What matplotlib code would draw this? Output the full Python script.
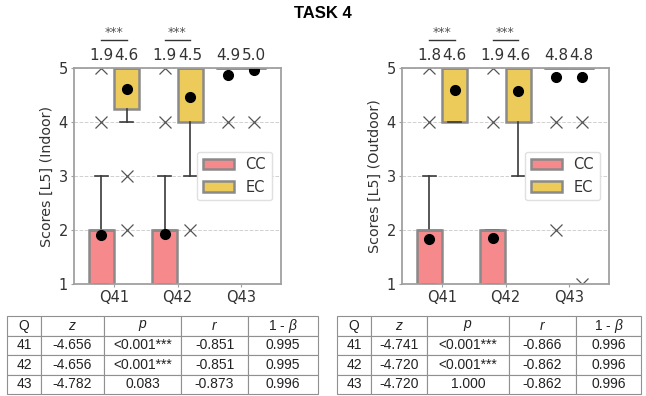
import matplotlib.pyplot as plt
import numpy as np

plt.rcParams["mathtext.fontset"] = "custom"
plt.rcParams["mathtext.rm"] = "Liberation Sans"
plt.rcParams["mathtext.it"] = "Liberation Sans:italic"

# Questions and groups
questions = ["Q41", "Q42", "Q43"]
groups = ["CC", "EC"]

# Box statistics per question (CC, EC): q1, q3, median, whisker low/high, mean, fliers
indoor_q1 = [[1, 4.25], [1, 4], [5, 5]]
indoor_q3 = [[2, 5], [2, 5], [5, 5]]
indoor_med = [[2, 5], [2, 5], [5, 5]]
indoor_whislo = [[1, 4], [1, 3], [5, 5]]
indoor_whishi = [[3, 5], [3, 5], [5, 5]]
indoor_mean = [[1.9, 4.62], [1.93, 4.47], [4.87, 4.97]]
indoor_fliers = [[[4, 5], [3, 2]], [[4, 5], [2]], [[4], [4]]]

outdoor_q1 = [[1, 4], [1, 4], [5, 5]]
outdoor_q3 = [[2, 5], [2, 5], [5, 5]]
outdoor_med = [[2, 5], [2, 5], [5, 5]]
outdoor_whislo = [[1, 4], [1, 3], [5, 5]]
outdoor_whishi = [[3, 5], [2, 5], [5, 5]]
outdoor_mean = [[1.83, 4.6], [1.86, 4.57], [4.83, 4.83]]
outdoor_fliers = [[[4, 5], []], [[4, 5], []], [[4, 2], [4, 1]]]

significant = [True, True, False]

# Wilcoxon test tables
table_cols = ["Q", "$z$", "$p$", "$r$", "1 - $\\beta$"]
indoor_table = [
    ["41", "-4.656", "<0.001***", "-0.851", "0.995"],
    ["42", "-4.656", "<0.001***", "-0.851", "0.995"],
    ["43", "-4.782", "0.083", "-0.873", "0.996"],
]
outdoor_table = [
    ["41", "-4.741", "<0.001***", "-0.866", "0.996"],
    ["42", "-4.720", "<0.001***", "-0.862", "0.996"],
    ["43", "-4.720", "1.000", "-0.862", "0.996"],
]

colors = {"CC": "#F5898C", "EC": "#EDCB5A"}
edge = "#8a8a8a"
W, H = 646, 396


def px_axes(fig, x0, y0, x1, y1):
    return fig.add_axes([x0 / W, 1 - y1 / H, (x1 - x0) / W, (y1 - y0) / H])


def draw_boxes(ax, q1, q3, med, wlo, whi, mean, fliers, ylabel):
    offsets = [-0.2, 0.2]
    for gi, g in enumerate(groups):
        stats = []
        for qi in range(len(questions)):
            stats.append(dict(q1=q1[qi][gi], q3=q3[qi][gi], med=med[qi][gi],
                              whislo=wlo[qi][gi], whishi=whi[qi][gi],
                              mean=mean[qi][gi], fliers=fliers[qi][gi]))
        pos = np.arange(len(questions)) + offsets[gi]
        ax.bxp(stats, positions=pos, widths=0.39, patch_artist=True,
               showmeans=True, manage_ticks=False,
               boxprops=dict(facecolor=colors[g], edgecolor=edge, linewidth=1.8),
               medianprops=dict(color=edge, linewidth=1.8),
               whiskerprops=dict(color="#3a3a3a", linewidth=1.2),
               capprops=dict(color="#3a3a3a", linewidth=1.2),
               capwidths=0.2,
               flierprops=dict(marker="x", markeredgecolor="#555555",
                               markersize=9, markeredgewidth=0.9),
               meanprops=dict(marker="o", markerfacecolor="black",
                              markeredgecolor="black", markersize=7),
               label=g)
        for qi in range(len(questions)):
            ax.text(qi + offsets[gi], 5.15, f"{mean[qi][gi]:.1f}", ha="center",
                    va="baseline", fontsize=11, color="#333333", clip_on=False)
    for qi, sig in enumerate(significant):
        if sig:
            ax.plot([qi - 0.2, qi + 0.2], [5.52, 5.52], color="#333333",
                    linewidth=1, clip_on=False)
            ax.text(qi, 5.54, "***", ha="center", va="bottom", fontsize=9,
                    color="#555555", clip_on=False)
    ax.set_xlim(-0.63, 2.63)
    ax.set_ylim(1, 5)
    ax.set_yticks([1, 2, 3, 4, 5])
    ax.set_xticks(range(len(questions)))
    ax.set_xticklabels(questions)
    ax.yaxis.grid(True, linestyle="--", color="#d0d0d0", linewidth=0.7)
    ax.set_axisbelow(True)
    for s in ax.spines.values():
        s.set_color("#a0a0a0")
        s.set_linewidth(1.3)
    ax.tick_params(colors="#a0a0a0", labelcolor="#333333", labelsize=10.5,
                   length=2.5, pad=2)
    ax.set_ylabel(ylabel, fontsize=10.3, color="#333333", labelpad=3)
    ax.legend(loc="center right", bbox_to_anchor=(0.99, 0.5), fontsize=10.5,
              handlelength=2.1, framealpha=1, edgecolor="#e0e0e0",
              labelcolor="#333333")


def draw_table(ax, rows):
    ax.axis("off")
    tb = ax.table(cellText=rows, colLabels=table_cols, cellLoc="center",
                  bbox=[0, 0, 1, 1])
    tb.auto_set_font_size(False)
    for (r, c), cell in tb.get_celld().items():
        cell.set_edgecolor("#909090")
        cell.set_linewidth(0.8)
        cell.get_text().set_fontsize(10)
        cell.get_text().set_fontfamily("Liberation Sans")
        cell.get_text().set_color("#222222")
    return tb


fig = plt.figure(figsize=(W / 100, H / 100), dpi=100)
fig.text(0.5, 1 - 14 / H, "TASK 4", ha="center", va="center",
         fontsize=12, fontweight="bold", fontfamily="Liberation Sans")

ax1 = px_axes(fig, 74, 68, 281, 284)
draw_boxes(ax1, indoor_q1, indoor_q3, indoor_med, indoor_whislo, indoor_whishi,
           indoor_mean, indoor_fliers, "Scores [L5] (Indoor)")
ax2 = px_axes(fig, 402, 68, 609, 284)
draw_boxes(ax2, outdoor_q1, outdoor_q3, outdoor_med, outdoor_whislo, outdoor_whishi,
           outdoor_mean, outdoor_fliers, "Scores [L5] (Outdoor)")

t1 = px_axes(fig, 7, 316, 318, 394)
tb1 = draw_table(t1, indoor_table)
t2 = px_axes(fig, 337, 316, 641, 394)
tb2 = draw_table(t2, outdoor_table)

# column widths in pixels
for tb, widths in [(tb1, [34, 63, 77, 67, 70]), (tb2, [34, 56, 82, 67, 65])]:
    total = sum(widths)
    for (r, c), cell in tb.get_celld().items():
        cell.set_width(widths[c] / total)
    x = 0
    for c, w in enumerate(widths):
        for r in range(4):
            tb[r, c].set_x(x / total)
        x += w

fig.savefig("out.png", dpi=100)
